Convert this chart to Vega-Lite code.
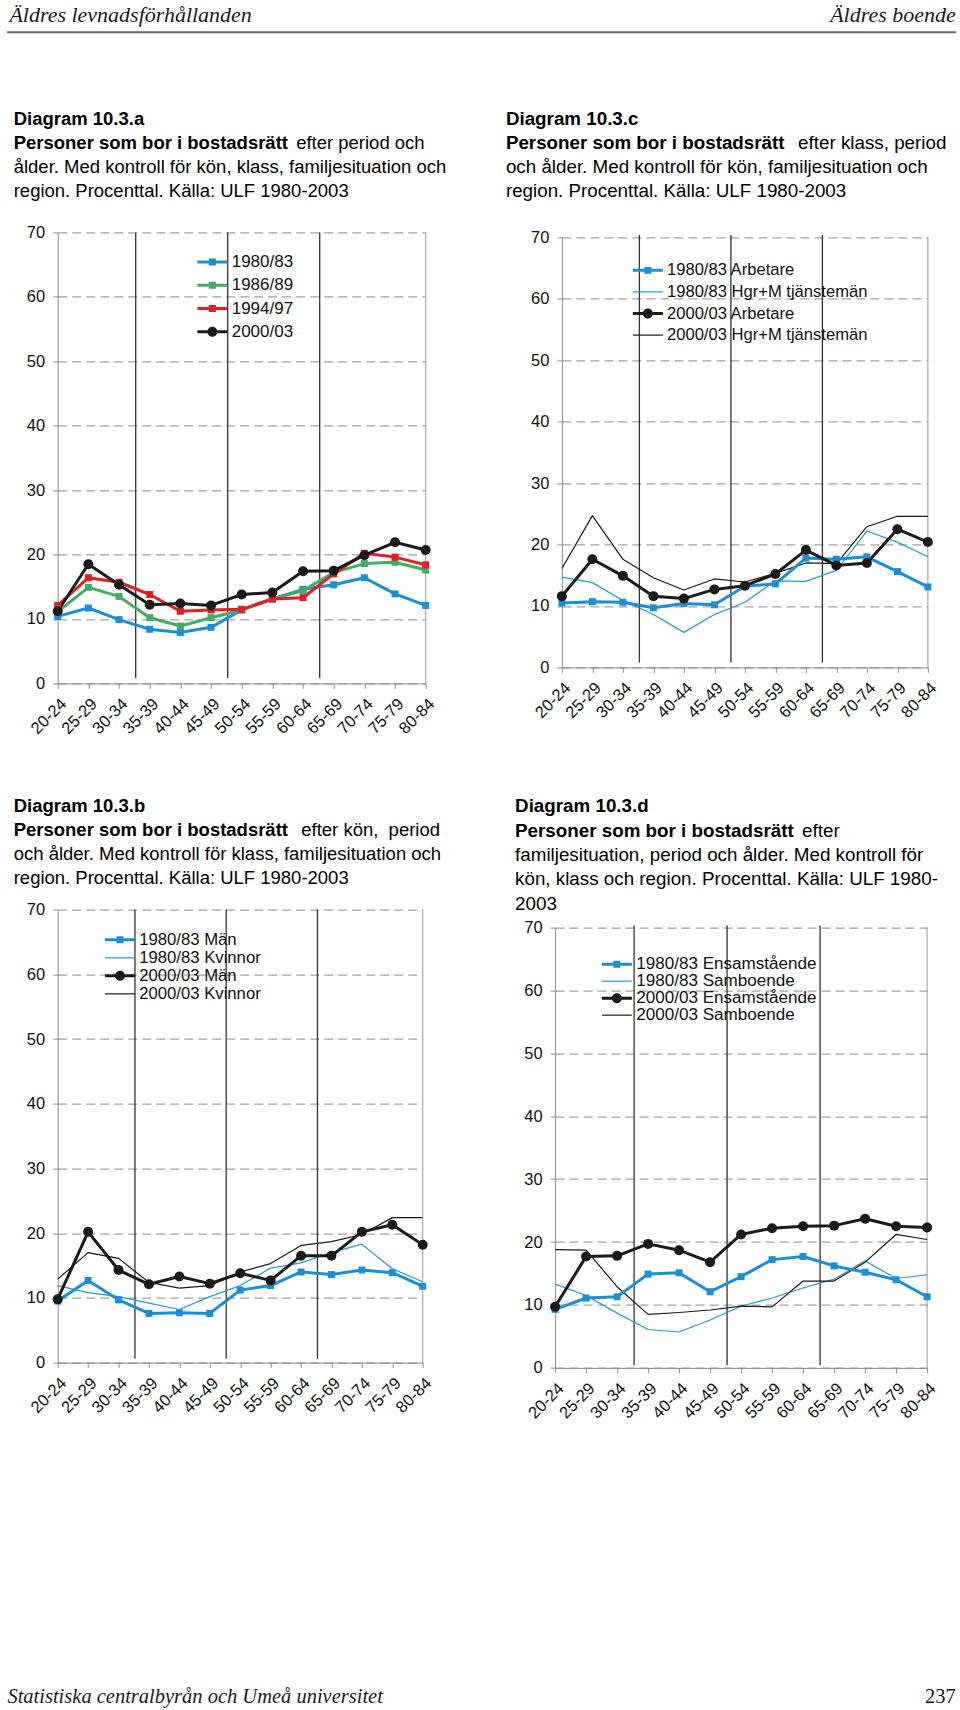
{
  "$schema": "https://vega.github.io/schema/vega-lite/v6.json",
  "padding": {"left": 6.7, "top": 3.8, "right": 0, "bottom": 0},
  "background": "white",
  "config": {
    "font": "Liberation Sans",
    "view": {"stroke": null},
    "axis": {"labelFont": "Liberation Sans", "labelFontSize": 16.5, "labelColor": "#111111", "domainColor": "#8c8c8c", "tickColor": "#8c8c8c", "tickSize": 5, "gridColor": "#8c8c8c", "gridDash": [9, 5], "gridWidth": 1, "labelOverlap": false},
    "axisX": {"labelAngle": -45, "labelAlign": "right", "labelBaseline": "top", "labelPadding": 7, "grid": false},
    "axisY": {"labelPadding": 8, "grid": true},
    "legend": {"labelFont": "Liberation Sans", "labelColor": "#111111", "symbolStrokeWidth": 0, "symbolSize": 100, "symbolOpacity": 1, "padding": 0, "symbolOffset": 0, "labelOffset": 10.8, "direction": "vertical", "orient": "none", "labelLimit": 500},
    "line": {"strokeJoin": "round"}
  },
  "resolve": {"scale": {"color": "independent", "shape": "independent"}, "legend": {"color": "independent", "shape": "independent"}},
  "datasets": {
    "a": [
      {"age":"20-24","series":"1980/83","value":10.4},{"age":"25-29","series":"1980/83","value":11.7},{"age":"30-34","series":"1980/83","value":9.9},{"age":"35-39","series":"1980/83","value":8.4},{"age":"40-44","series":"1980/83","value":7.9},{"age":"45-49","series":"1980/83","value":8.7},{"age":"50-54","series":"1980/83","value":11.4},{"age":"55-59","series":"1980/83","value":13.1},{"age":"60-64","series":"1980/83","value":14.6},{"age":"65-69","series":"1980/83","value":15.3},{"age":"70-74","series":"1980/83","value":16.4},{"age":"75-79","series":"1980/83","value":13.9},{"age":"80-84","series":"1980/83","value":12.1},
      {"age":"20-24","series":"1986/89","value":11.1},{"age":"25-29","series":"1986/89","value":14.9},{"age":"30-34","series":"1986/89","value":13.5},{"age":"35-39","series":"1986/89","value":10.2},{"age":"40-44","series":"1986/89","value":8.9},{"age":"45-49","series":"1986/89","value":10.2},{"age":"50-54","series":"1986/89","value":11.4},{"age":"55-59","series":"1986/89","value":13.1},{"age":"60-64","series":"1986/89","value":14.4},{"age":"65-69","series":"1986/89","value":17.2},{"age":"70-74","series":"1986/89","value":18.6},{"age":"75-79","series":"1986/89","value":18.8},{"age":"80-84","series":"1986/89","value":17.6},
      {"age":"20-24","series":"1994/97","value":12.1},{"age":"25-29","series":"1994/97","value":16.4},{"age":"30-34","series":"1994/97","value":15.7},{"age":"35-39","series":"1994/97","value":13.8},{"age":"40-44","series":"1994/97","value":11.2},{"age":"45-49","series":"1994/97","value":11.4},{"age":"50-54","series":"1994/97","value":11.5},{"age":"55-59","series":"1994/97","value":13.1},{"age":"60-64","series":"1994/97","value":13.3},{"age":"65-69","series":"1994/97","value":17.0},{"age":"70-74","series":"1994/97","value":20.2},{"age":"75-79","series":"1994/97","value":19.6},{"age":"80-84","series":"1994/97","value":18.4},
      {"age":"20-24","series":"2000/03","value":11.2},{"age":"25-29","series":"2000/03","value":18.5},{"age":"30-34","series":"2000/03","value":15.3},{"age":"35-39","series":"2000/03","value":12.2},{"age":"40-44","series":"2000/03","value":12.4},{"age":"45-49","series":"2000/03","value":12.1},{"age":"50-54","series":"2000/03","value":13.8},{"age":"55-59","series":"2000/03","value":14.1},{"age":"60-64","series":"2000/03","value":17.4},{"age":"65-69","series":"2000/03","value":17.5},{"age":"70-74","series":"2000/03","value":19.9},{"age":"75-79","series":"2000/03","value":21.9},{"age":"80-84","series":"2000/03","value":20.7}
    ],
    "c": [
      {"age":"20-24","series":"1980/83 Arbetare","value":10.5},{"age":"25-29","series":"1980/83 Arbetare","value":10.7},{"age":"30-34","series":"1980/83 Arbetare","value":10.6},{"age":"35-39","series":"1980/83 Arbetare","value":9.7},{"age":"40-44","series":"1980/83 Arbetare","value":10.4},{"age":"45-49","series":"1980/83 Arbetare","value":10.2},{"age":"50-54","series":"1980/83 Arbetare","value":13.2},{"age":"55-59","series":"1980/83 Arbetare","value":13.6},{"age":"60-64","series":"1980/83 Arbetare","value":17.8},{"age":"65-69","series":"1980/83 Arbetare","value":17.6},{"age":"70-74","series":"1980/83 Arbetare","value":18.0},{"age":"75-79","series":"1980/83 Arbetare","value":15.6},{"age":"80-84","series":"1980/83 Arbetare","value":13.1},
      {"age":"20-24","series":"1980/83 Hgr+M tjänstemän","value":14.7},{"age":"25-29","series":"1980/83 Hgr+M tjänstemän","value":13.8},{"age":"30-34","series":"1980/83 Hgr+M tjänstemän","value":10.9},{"age":"35-39","series":"1980/83 Hgr+M tjänstemän","value":8.6},{"age":"40-44","series":"1980/83 Hgr+M tjänstemän","value":5.7},{"age":"45-49","series":"1980/83 Hgr+M tjänstemän","value":8.6},{"age":"50-54","series":"1980/83 Hgr+M tjänstemän","value":10.6},{"age":"55-59","series":"1980/83 Hgr+M tjänstemän","value":14.1},{"age":"60-64","series":"1980/83 Hgr+M tjänstemän","value":14.0},{"age":"65-69","series":"1980/83 Hgr+M tjänstemän","value":15.8},{"age":"70-74","series":"1980/83 Hgr+M tjänstemän","value":22.2},{"age":"75-79","series":"1980/83 Hgr+M tjänstemän","value":20.4},{"age":"80-84","series":"1980/83 Hgr+M tjänstemän","value":18.0},
      {"age":"20-24","series":"2000/03 Arbetare","value":11.6},{"age":"25-29","series":"2000/03 Arbetare","value":17.6},{"age":"30-34","series":"2000/03 Arbetare","value":14.9},{"age":"35-39","series":"2000/03 Arbetare","value":11.6},{"age":"40-44","series":"2000/03 Arbetare","value":11.2},{"age":"45-49","series":"2000/03 Arbetare","value":12.7},{"age":"50-54","series":"2000/03 Arbetare","value":13.3},{"age":"55-59","series":"2000/03 Arbetare","value":15.2},{"age":"60-64","series":"2000/03 Arbetare","value":19.1},{"age":"65-69","series":"2000/03 Arbetare","value":16.6},{"age":"70-74","series":"2000/03 Arbetare","value":17.0},{"age":"75-79","series":"2000/03 Arbetare","value":22.5},{"age":"80-84","series":"2000/03 Arbetare","value":20.4},
      {"age":"20-24","series":"2000/03 Hgr+M tjänstemän","value":16.1},{"age":"25-29","series":"2000/03 Hgr+M tjänstemän","value":24.7},{"age":"30-34","series":"2000/03 Hgr+M tjänstemän","value":17.6},{"age":"35-39","series":"2000/03 Hgr+M tjänstemän","value":14.6},{"age":"40-44","series":"2000/03 Hgr+M tjänstemän","value":12.6},{"age":"45-49","series":"2000/03 Hgr+M tjänstemän","value":14.4},{"age":"50-54","series":"2000/03 Hgr+M tjänstemän","value":13.9},{"age":"55-59","series":"2000/03 Hgr+M tjänstemän","value":15.3},{"age":"60-64","series":"2000/03 Hgr+M tjänstemän","value":17.0},{"age":"65-69","series":"2000/03 Hgr+M tjänstemän","value":16.9},{"age":"70-74","series":"2000/03 Hgr+M tjänstemän","value":22.9},{"age":"75-79","series":"2000/03 Hgr+M tjänstemän","value":24.6},{"age":"80-84","series":"2000/03 Hgr+M tjänstemän","value":24.6}
    ],
    "b": [
      {"age":"20-24","series":"1980/83 Män","value":9.5},{"age":"25-29","series":"1980/83 Män","value":12.7},{"age":"30-34","series":"1980/83 Män","value":9.7},{"age":"35-39","series":"1980/83 Män","value":7.6},{"age":"40-44","series":"1980/83 Män","value":7.7},{"age":"45-49","series":"1980/83 Män","value":7.6},{"age":"50-54","series":"1980/83 Män","value":11.2},{"age":"55-59","series":"1980/83 Män","value":11.9},{"age":"60-64","series":"1980/83 Män","value":14.0},{"age":"65-69","series":"1980/83 Män","value":13.6},{"age":"70-74","series":"1980/83 Män","value":14.3},{"age":"75-79","series":"1980/83 Män","value":13.9},{"age":"80-84","series":"1980/83 Män","value":11.8},
      {"age":"20-24","series":"1980/83 Kvinnor","value":11.9},{"age":"25-29","series":"1980/83 Kvinnor","value":10.8},{"age":"30-34","series":"1980/83 Kvinnor","value":10.2},{"age":"35-39","series":"1980/83 Kvinnor","value":9.2},{"age":"40-44","series":"1980/83 Kvinnor","value":8.2},{"age":"45-49","series":"1980/83 Kvinnor","value":10.2},{"age":"50-54","series":"1980/83 Kvinnor","value":11.9},{"age":"55-59","series":"1980/83 Kvinnor","value":14.6},{"age":"60-64","series":"1980/83 Kvinnor","value":15.4},{"age":"65-69","series":"1980/83 Kvinnor","value":17.0},{"age":"70-74","series":"1980/83 Kvinnor","value":18.3},{"age":"75-79","series":"1980/83 Kvinnor","value":14.5},{"age":"80-84","series":"1980/83 Kvinnor","value":12.5},
      {"age":"20-24","series":"2000/03 Män","value":9.8},{"age":"25-29","series":"2000/03 Män","value":20.2},{"age":"30-34","series":"2000/03 Män","value":14.3},{"age":"35-39","series":"2000/03 Män","value":12.1},{"age":"40-44","series":"2000/03 Män","value":13.3},{"age":"45-49","series":"2000/03 Män","value":12.2},{"age":"50-54","series":"2000/03 Män","value":13.8},{"age":"55-59","series":"2000/03 Män","value":12.7},{"age":"60-64","series":"2000/03 Män","value":16.5},{"age":"65-69","series":"2000/03 Män","value":16.5},{"age":"70-74","series":"2000/03 Män","value":20.2},{"age":"75-79","series":"2000/03 Män","value":21.3},{"age":"80-84","series":"2000/03 Män","value":18.2},
      {"age":"20-24","series":"2000/03 Kvinnor","value":12.9},{"age":"25-29","series":"2000/03 Kvinnor","value":17.0},{"age":"30-34","series":"2000/03 Kvinnor","value":16.1},{"age":"35-39","series":"2000/03 Kvinnor","value":12.4},{"age":"40-44","series":"2000/03 Kvinnor","value":11.5},{"age":"45-49","series":"2000/03 Kvinnor","value":11.9},{"age":"50-54","series":"2000/03 Kvinnor","value":14.0},{"age":"55-59","series":"2000/03 Kvinnor","value":15.3},{"age":"60-64","series":"2000/03 Kvinnor","value":18.1},{"age":"65-69","series":"2000/03 Kvinnor","value":18.7},{"age":"70-74","series":"2000/03 Kvinnor","value":19.8},{"age":"75-79","series":"2000/03 Kvinnor","value":22.4},{"age":"80-84","series":"2000/03 Kvinnor","value":22.4}
    ],
    "d": [
      {"age":"20-24","series":"1980/83 Ensamstående","value":9.3},{"age":"25-29","series":"1980/83 Ensamstående","value":11.1},{"age":"30-34","series":"1980/83 Ensamstående","value":11.3},{"age":"35-39","series":"1980/83 Ensamstående","value":14.9},{"age":"40-44","series":"1980/83 Ensamstående","value":15.1},{"age":"45-49","series":"1980/83 Ensamstående","value":12.1},{"age":"50-54","series":"1980/83 Ensamstående","value":14.5},{"age":"55-59","series":"1980/83 Ensamstående","value":17.2},{"age":"60-64","series":"1980/83 Ensamstående","value":17.7},{"age":"65-69","series":"1980/83 Ensamstående","value":16.2},{"age":"70-74","series":"1980/83 Ensamstående","value":15.2},{"age":"75-79","series":"1980/83 Ensamstående","value":14.0},{"age":"80-84","series":"1980/83 Ensamstående","value":11.3},
      {"age":"20-24","series":"1980/83 Samboende","value":13.3},{"age":"25-29","series":"1980/83 Samboende","value":11.5},{"age":"30-34","series":"1980/83 Samboende","value":8.7},{"age":"35-39","series":"1980/83 Samboende","value":6.1},{"age":"40-44","series":"1980/83 Samboende","value":5.7},{"age":"45-49","series":"1980/83 Samboende","value":7.6},{"age":"50-54","series":"1980/83 Samboende","value":9.8},{"age":"55-59","series":"1980/83 Samboende","value":11.1},{"age":"60-64","series":"1980/83 Samboende","value":12.7},{"age":"65-69","series":"1980/83 Samboende","value":14.1},{"age":"70-74","series":"1980/83 Samboende","value":17.0},{"age":"75-79","series":"1980/83 Samboende","value":14.2},{"age":"80-84","series":"1980/83 Samboende","value":14.8},
      {"age":"20-24","series":"2000/03 Ensamstående","value":9.7},{"age":"25-29","series":"2000/03 Ensamstående","value":17.7},{"age":"30-34","series":"2000/03 Ensamstående","value":17.8},{"age":"35-39","series":"2000/03 Ensamstående","value":19.7},{"age":"40-44","series":"2000/03 Ensamstående","value":18.7},{"age":"45-49","series":"2000/03 Ensamstående","value":16.8},{"age":"50-54","series":"2000/03 Ensamstående","value":21.2},{"age":"55-59","series":"2000/03 Ensamstående","value":22.2},{"age":"60-64","series":"2000/03 Ensamstående","value":22.5},{"age":"65-69","series":"2000/03 Ensamstående","value":22.6},{"age":"70-74","series":"2000/03 Ensamstående","value":23.7},{"age":"75-79","series":"2000/03 Ensamstående","value":22.5},{"age":"80-84","series":"2000/03 Ensamstående","value":22.3},
      {"age":"20-24","series":"2000/03 Samboende","value":18.8},{"age":"25-29","series":"2000/03 Samboende","value":18.7},{"age":"30-34","series":"2000/03 Samboende","value":12.9},{"age":"35-39","series":"2000/03 Samboende","value":8.5},{"age":"40-44","series":"2000/03 Samboende","value":8.8},{"age":"45-49","series":"2000/03 Samboende","value":9.2},{"age":"50-54","series":"2000/03 Samboende","value":9.8},{"age":"55-59","series":"2000/03 Samboende","value":9.7},{"age":"60-64","series":"2000/03 Samboende","value":13.8},{"age":"65-69","series":"2000/03 Samboende","value":13.8},{"age":"70-74","series":"2000/03 Samboende","value":16.8},{"age":"75-79","series":"2000/03 Samboende","value":21.2},{"age":"80-84","series":"2000/03 Samboende","value":20.4}
    ]
  },
  "spacing": 77.6,
  "vconcat": [
    {
      "width": 898,
      "height": 1,
      "layer": [
        {
          "data": {"values": [{"label": "Äldres levnadsförhållanden"}]},
          "mark": {"type": "text", "align": "left", "baseline": "alphabetic", "dx": 3, "dy": -9, "font": "Liberation Serif", "fontStyle": "italic", "fontSize": 22, "color": "#1a1a1a"},
          "encoding": {
            "text": {"field": "label"},
            "x": {"datum": 0, "type": "quantitative", "scale": {"domain": [0, 1], "range": [-51.3, 898], "nice": false, "zero": false}, "axis": {"orient": "bottom", "domain": true, "domainColor": "#6b6b6b", "domainWidth": 2, "ticks": false, "labels": false, "grid": false, "title": null}}
          }
        },
        {
          "data": {"values": [{"label": "Äldres boende"}]},
          "mark": {"type": "text", "align": "right", "baseline": "alphabetic", "dy": -9, "font": "Liberation Serif", "fontStyle": "italic", "fontSize": 22, "color": "#1a1a1a"},
          "encoding": {
            "text": {"field": "label"},
            "x": {"datum": 1, "type": "quantitative"}
          }
        }
      ]
    },
    {
      "spacing": 59.2,
      "resolve": {"scale": {"color": "independent", "shape": "independent"}, "legend": {"color": "independent", "shape": "independent"}},
      "vconcat": [
        {
          "columns": 2,
          "align": "none",
          "spacing": 59.2,
          "resolve": {"scale": {"color": "independent", "shape": "independent"}, "legend": {"color": "independent", "shape": "independent"}},
          "concat": [
            {
              "width": 368,
              "height": 451,
              "title": {
                "text": ["Diagram 10.3.a", "Personer som bor i bostadsrätt"],
                "subtitle": ["\u200b\u00a0\u00a0\u00a0\u00a0\u00a0\u00a0\u00a0\u00a0\u00a0\u00a0\u00a0\u00a0\u00a0\u00a0\u00a0\u00a0\u00a0\u00a0\u00a0\u00a0\u00a0\u00a0\u00a0\u00a0\u00a0\u00a0\u00a0\u00a0\u00a0\u00a0\u00a0\u00a0\u00a0\u00a0\u00a0\u00a0\u00a0\u00a0\u00a0\u00a0\u00a0\u00a0\u00a0\u00a0\u00a0\u00a0\u00a0\u00a0\u00a0\u00a0\u00a0\u00a0\u00a0\u00a0\u00a0efter period och", "ålder. Med kontroll för kön, klass, familjesituation och", "region. Procenttal. Källa: ULF 1980-2003"],
                "anchor": "start", "frame": "group", "dx": -44, "offset": 24.2,
                "font": "Liberation Sans", "fontSize": 18.5, "fontWeight": "bold", "lineHeight": 24, "color": "#000000",
                "subtitleFont": "Liberation Sans", "subtitleFontSize": 18.5, "subtitleFontWeight": "normal", "subtitleLineHeight": 24, "subtitleColor": "#000000", "subtitlePadding": -18.5
              },
              "layer": [
                {"data": {"values": [{"age": "35-39"}, {"age": "50-54"}, {"age": "65-69"}]}, "mark": {"type": "rule", "color": "#333333", "strokeWidth": 1.3, "xOffset": -14}, "encoding": {"x": {"field": "age", "type": "ordinal", "scale": {"type": "point", "padding": 0, "domain": ["20-24","25-29","30-34","35-39","40-44","45-49","50-54","55-59","60-64","65-69","70-74","75-79","80-84"]}, "axis": {"title": null}}, "y": {"datum": 70, "type": "quantitative"}, "y2": {"datum": 0.8}}},
                {"data": {"values": [{"age": "80-84"}]}, "mark": {"type": "rule", "color": "#999999", "strokeWidth": 1}, "encoding": {"x": {"field": "age", "type": "ordinal"}, "y": {"datum": 70, "type": "quantitative"}, "y2": {"datum": 0}}},
                {"data": {"name": "a"}, "mark": {"type": "line", "strokeWidth": 3},
                 "encoding": {
                   "x": {"field": "age", "type": "ordinal"},
                   "y": {"field": "value", "type": "quantitative", "scale": {"domain": [0, 70], "nice": false}, "axis": {"title": null, "values": [0,10,20,30,40,50,60,70]}},
                   "color": {"field": "series", "type": "nominal", "scale": {"domain": ["1980/83","1986/89","1994/97","2000/03"], "range": ["#1c8fd3","#45ac68","#e31e26","#1a1a1a"]}}
                 }},
                {"data": {"name": "a"}, "transform": [{"filter": {"field": "series", "oneOf": ["1980/83","1986/89","1994/97"]}}], "mark": {"type": "point", "shape": "square", "filled": true, "size": 49, "opacity": 1},
                 "encoding": {"x": {"field": "age", "type": "ordinal"}, "y": {"field": "value", "type": "quantitative"}, "color": {"field": "series", "type": "nominal"}}},
                {"data": {"name": "a"}, "transform": [{"filter": {"field": "series", "equal": "2000/03"}}], "mark": {"type": "point", "shape": "circle", "filled": true, "size": 100, "opacity": 1},
                 "encoding": {"x": {"field": "age", "type": "ordinal"}, "y": {"field": "value", "type": "quantitative"}, "color": {"field": "series", "type": "nominal"}}},
                {"data": {"name": "a"}, "mark": {"type": "point", "filled": true, "size": 100, "opacity": 0},
                 "encoding": {"x": {"field": "age", "type": "ordinal"}, "y": {"field": "value", "type": "quantitative"},
                   "color": {"field": "series", "type": "nominal", "legend": {"title": null, "legendX": 146.2, "legendY": 21, "labelFontSize": 17, "rowPadding": 5.3}},
                   "shape": {"field": "series", "type": "nominal", "scale": {"domain": ["1980/83","1986/89","1994/97","2000/03"], "range": ["M-3,-0.3H3V0.3H-3ZM-0.7,-0.7H0.7V0.7H-0.7Z","M-3,-0.3H3V0.3H-3ZM-0.7,-0.7H0.7V0.7H-0.7Z","M-3,-0.3H3V0.3H-3ZM-0.7,-0.7H0.7V0.7H-0.7Z","M-3,-0.3H3V0.3H-3ZM1,0A1,1,0,1,1,-1,0A1,1,0,1,1,1,0Z"]}, "legend": {"title": null, "legendX": 146.2, "legendY": 21, "labelFontSize": 17, "rowPadding": 5.3}}
                 }}
              ]
            },
            {
              "width": 366,
              "height": 435,
              "title": {
                "text": ["Diagram 10.3.c", "Personer som bor i bostadsrätt"],
                "subtitle": ["\u200b\u00a0\u00a0\u00a0\u00a0\u00a0\u00a0\u00a0\u00a0\u00a0\u00a0\u00a0\u00a0\u00a0\u00a0\u00a0\u00a0\u00a0\u00a0\u00a0\u00a0\u00a0\u00a0\u00a0\u00a0\u00a0\u00a0\u00a0\u00a0\u00a0\u00a0\u00a0\u00a0\u00a0\u00a0\u00a0\u00a0\u00a0\u00a0\u00a0\u00a0\u00a0\u00a0\u00a0\u00a0\u00a0\u00a0\u00a0\u00a0\u00a0\u00a0\u00a0\u00a0\u00a0\u00a0\u00a0\u00a0efter klass, period", "och ålder. Med kontroll för kön, familjesituation och", "region. Procenttal. Källa: ULF 1980-2003"],
                "anchor": "start", "frame": "group", "dx": -56, "offset": 28.9,
                "font": "Liberation Sans", "fontSize": 18.8, "fontWeight": "bold", "lineHeight": 24, "color": "#000000",
                "subtitleFont": "Liberation Sans", "subtitleFontSize": 18.8, "subtitleFontWeight": "normal", "subtitleLineHeight": 24, "subtitleColor": "#000000", "subtitlePadding": -18.8
              },
              "layer": [
                {"data": {"values": [{"age": "35-39"}, {"age": "50-54"}, {"age": "65-69"}]}, "mark": {"type": "rule", "color": "#333333", "strokeWidth": 1.3, "xOffset": -14}, "encoding": {"x": {"field": "age", "type": "ordinal", "scale": {"type": "point", "padding": 0, "domain": ["20-24","25-29","30-34","35-39","40-44","45-49","50-54","55-59","60-64","65-69","70-74","75-79","80-84"]}, "axis": {"title": null}}, "y": {"datum": 70.4, "type": "quantitative"}, "y2": {"datum": 0.8}}},
                {"data": {"values": [{"age": "80-84"}]}, "mark": {"type": "rule", "color": "#999999", "strokeWidth": 1}, "encoding": {"x": {"field": "age", "type": "ordinal"}, "y": {"datum": 70, "type": "quantitative"}, "y2": {"datum": 0}}},
                {"data": {"name": "c"}, "transform": [{"filter": {"field": "series", "oneOf": ["1980/83 Hgr+M tjänstemän","2000/03 Hgr+M tjänstemän"]}}], "mark": {"type": "line", "strokeWidth": 1.2},
                 "encoding": {
                   "x": {"field": "age", "type": "ordinal"},
                   "y": {"field": "value", "type": "quantitative", "scale": {"domain": [0, 70], "nice": false, "range": [435, 5]}, "axis": {"title": null, "values": [0,10,20,30,40,50,60,70]}},
                   "color": {"field": "series", "type": "nominal", "scale": {"domain": ["1980/83 Arbetare","1980/83 Hgr+M tjänstemän","2000/03 Arbetare","2000/03 Hgr+M tjänstemän"], "range": ["#1c8fd3","#2a9bc2","#1a1a1a","#1a1a1a"]}}
                 }},
                {"data": {"name": "c"}, "transform": [{"filter": {"field": "series", "oneOf": ["1980/83 Arbetare","2000/03 Arbetare"]}}], "mark": {"type": "line", "strokeWidth": 3},
                 "encoding": {"x": {"field": "age", "type": "ordinal"}, "y": {"field": "value", "type": "quantitative"}, "color": {"field": "series", "type": "nominal"}}},
                {"data": {"name": "c"}, "transform": [{"filter": {"field": "series", "equal": "1980/83 Arbetare"}}], "mark": {"type": "point", "shape": "square", "filled": true, "size": 49, "opacity": 1},
                 "encoding": {"x": {"field": "age", "type": "ordinal"}, "y": {"field": "value", "type": "quantitative"}, "color": {"field": "series", "type": "nominal"}}},
                {"data": {"name": "c"}, "transform": [{"filter": {"field": "series", "equal": "2000/03 Arbetare"}}], "mark": {"type": "point", "shape": "circle", "filled": true, "size": 100, "opacity": 1},
                 "encoding": {"x": {"field": "age", "type": "ordinal"}, "y": {"field": "value", "type": "quantitative"}, "color": {"field": "series", "type": "nominal"}}},
                {"data": {"name": "c"}, "mark": {"type": "point", "filled": true, "size": 100, "opacity": 0},
                 "encoding": {"x": {"field": "age", "type": "ordinal"}, "y": {"field": "value", "type": "quantitative"},
                   "color": {"field": "series", "type": "nominal", "legend": {"title": null, "legendX": 77.7, "legendY": 29.6, "labelFontSize": 16.6, "rowPadding": 4.6}},
                   "shape": {"field": "series", "type": "nominal", "scale": {"domain": ["1980/83 Arbetare","1980/83 Hgr+M tjänstemän","2000/03 Arbetare","2000/03 Hgr+M tjänstemän"], "range": ["M-3,-0.3H3V0.3H-3ZM-0.7,-0.7H0.7V0.7H-0.7Z","M-3,-0.12H3V0.12H-3Z","M-3,-0.3H3V0.3H-3ZM1,0A1,1,0,1,1,-1,0A1,1,0,1,1,1,0Z","M-3,-0.12H3V0.12H-3Z"]}, "legend": {"title": null, "legendX": 77.7, "legendY": 29.6, "labelFontSize": 16.6, "rowPadding": 4.6}}
                 }}
              ]
            }
          ]
        },
        {
          "columns": 2,
          "align": "none",
          "spacing": 73.4,
          "resolve": {"scale": {"color": "independent", "shape": "independent"}, "legend": {"color": "independent", "shape": "independent"}},
          "concat": [
            {
              "width": 365,
              "height": 453,
              "title": {
                "text": ["Diagram 10.3.b", "Personer som bor i bostadsrätt"],
                "subtitle": ["\u200b\u00a0\u00a0\u00a0\u00a0\u00a0\u00a0\u00a0\u00a0\u00a0\u00a0\u00a0\u00a0\u00a0\u00a0\u00a0\u00a0\u00a0\u00a0\u00a0\u00a0\u00a0\u00a0\u00a0\u00a0\u00a0\u00a0\u00a0\u00a0\u00a0\u00a0\u00a0\u00a0\u00a0\u00a0\u00a0\u00a0\u00a0\u00a0\u00a0\u00a0\u00a0\u00a0\u00a0\u00a0\u00a0\u00a0\u00a0\u00a0\u00a0\u00a0\u00a0\u00a0\u00a0\u00a0\u00a0\u00a0efter kön,\u00a0 period", "och ålder. Med kontroll för klass, familjesituation och", "region. Procenttal. Källa: ULF 1980-2003"],
                "anchor": "start", "frame": "group", "dx": -44, "offset": 13.9,
                "font": "Liberation Sans", "fontSize": 18.5, "fontWeight": "bold", "lineHeight": 24, "color": "#000000",
                "subtitleFont": "Liberation Sans", "subtitleFontSize": 18.5, "subtitleFontWeight": "normal", "subtitleLineHeight": 24, "subtitleColor": "#000000", "subtitlePadding": -18.5
              },
              "layer": [
                {"data": {"values": [{"age": "35-39"}, {"age": "50-54"}, {"age": "65-69"}]}, "mark": {"type": "rule", "color": "#333333", "strokeWidth": 1.3, "xOffset": -14}, "encoding": {"x": {"field": "age", "type": "ordinal", "scale": {"type": "point", "padding": 0, "domain": ["20-24","25-29","30-34","35-39","40-44","45-49","50-54","55-59","60-64","65-69","70-74","75-79","80-84"]}, "axis": {"title": null}}, "y": {"datum": 70, "type": "quantitative"}, "y2": {"datum": 0.6}}},
                {"data": {"values": [{"age": "80-84"}]}, "mark": {"type": "rule", "color": "#999999", "strokeWidth": 1}, "encoding": {"x": {"field": "age", "type": "ordinal"}, "y": {"datum": 70, "type": "quantitative"}, "y2": {"datum": 0}}},
                {"data": {"name": "b"}, "transform": [{"filter": {"field": "series", "oneOf": ["1980/83 Kvinnor","2000/03 Kvinnor"]}}], "mark": {"type": "line", "strokeWidth": 1.2},
                 "encoding": {
                   "x": {"field": "age", "type": "ordinal"},
                   "y": {"field": "value", "type": "quantitative", "scale": {"domain": [0, 70], "nice": false}, "axis": {"title": null, "values": [0,10,20,30,40,50,60,70]}},
                   "color": {"field": "series", "type": "nominal", "scale": {"domain": ["1980/83 Män","1980/83 Kvinnor","2000/03 Män","2000/03 Kvinnor"], "range": ["#1c8fd3","#2a9bc2","#1a1a1a","#1a1a1a"]}}
                 }},
                {"data": {"name": "b"}, "transform": [{"filter": {"field": "series", "oneOf": ["1980/83 Män","2000/03 Män"]}}], "mark": {"type": "line", "strokeWidth": 3},
                 "encoding": {"x": {"field": "age", "type": "ordinal"}, "y": {"field": "value", "type": "quantitative"}, "color": {"field": "series", "type": "nominal"}}},
                {"data": {"name": "b"}, "transform": [{"filter": {"field": "series", "equal": "1980/83 Män"}}], "mark": {"type": "point", "shape": "square", "filled": true, "size": 49, "opacity": 1},
                 "encoding": {"x": {"field": "age", "type": "ordinal"}, "y": {"field": "value", "type": "quantitative"}, "color": {"field": "series", "type": "nominal"}}},
                {"data": {"name": "b"}, "transform": [{"filter": {"field": "series", "equal": "2000/03 Män"}}], "mark": {"type": "point", "shape": "circle", "filled": true, "size": 100, "opacity": 1},
                 "encoding": {"x": {"field": "age", "type": "ordinal"}, "y": {"field": "value", "type": "quantitative"}, "color": {"field": "series", "type": "nominal"}}},
                {"data": {"name": "b"}, "mark": {"type": "point", "filled": true, "size": 100, "opacity": 0},
                 "encoding": {"x": {"field": "age", "type": "ordinal"}, "y": {"field": "value", "type": "quantitative"},
                   "color": {"field": "series", "type": "nominal", "legend": {"title": null, "legendX": 54, "legendY": 21.9, "labelFontSize": 16.7, "rowPadding": -2.5}},
                   "shape": {"field": "series", "type": "nominal", "scale": {"domain": ["1980/83 Män","1980/83 Kvinnor","2000/03 Män","2000/03 Kvinnor"], "range": ["M-3,-0.3H3V0.3H-3ZM-0.7,-0.7H0.7V0.7H-0.7Z","M-3,-0.12H3V0.12H-3Z","M-3,-0.3H3V0.3H-3ZM1,0A1,1,0,1,1,-1,0A1,1,0,1,1,1,0Z","M-3,-0.12H3V0.12H-3Z"]}, "legend": {"title": null, "legendX": 54, "legendY": 21.9, "labelFontSize": 16.7, "rowPadding": -2.5}}
                 }}
              ]
            },
            {
              "width": 372,
              "height": 458.3,
              "title": {
                "text": ["Diagram 10.3.d", "Personer som bor i bostadsrätt"],
                "subtitle": ["\u200b\u00a0\u00a0\u00a0\u00a0\u00a0\u00a0\u00a0\u00a0\u00a0\u00a0\u00a0\u00a0\u00a0\u00a0\u00a0\u00a0\u00a0\u00a0\u00a0\u00a0\u00a0\u00a0\u00a0\u00a0\u00a0\u00a0\u00a0\u00a0\u00a0\u00a0\u00a0\u00a0\u00a0\u00a0\u00a0\u00a0\u00a0\u00a0\u00a0\u00a0\u00a0\u00a0\u00a0\u00a0\u00a0\u00a0\u00a0\u00a0\u00a0\u00a0\u00a0\u00a0\u00a0\u00a0\u00a0efter", "familjesituation, period och ålder. Med kontroll för", "kön, klass och region. Procenttal. Källa: ULF 1980-", "2003"],
                "anchor": "start", "frame": "group", "dx": -40, "offset": -4,
                "font": "Liberation Sans", "fontSize": 18.8, "fontWeight": "bold", "lineHeight": 24.4, "color": "#000000",
                "subtitleFont": "Liberation Sans", "subtitleFontSize": 18.8, "subtitleFontWeight": "normal", "subtitleLineHeight": 24.4, "subtitleColor": "#000000", "subtitlePadding": -18.8
              },
              "layer": [
                {"data": {"values": [{"age": "35-39"}, {"age": "50-54"}, {"age": "65-69"}]}, "mark": {"type": "rule", "color": "#333333", "strokeWidth": 1.3, "xOffset": -14}, "encoding": {"x": {"field": "age", "type": "ordinal", "scale": {"type": "point", "padding": 0, "domain": ["20-24","25-29","30-34","35-39","40-44","45-49","50-54","55-59","60-64","65-69","70-74","75-79","80-84"]}, "axis": {"title": null}}, "y": {"datum": 70.3, "type": "quantitative"}, "y2": {"datum": 0.4}}},
                {"data": {"values": [{"age": "80-84"}]}, "mark": {"type": "rule", "color": "#999999", "strokeWidth": 1}, "encoding": {"x": {"field": "age", "type": "ordinal"}, "y": {"datum": 70, "type": "quantitative"}, "y2": {"datum": 0}}},
                {"data": {"name": "d"}, "transform": [{"filter": {"field": "series", "oneOf": ["1980/83 Samboende","2000/03 Samboende"]}}], "mark": {"type": "line", "strokeWidth": 1.2},
                 "encoding": {
                   "x": {"field": "age", "type": "ordinal"},
                   "y": {"field": "value", "type": "quantitative", "scale": {"domain": [0, 70], "nice": false, "range": [458.3, 17.7]}, "axis": {"title": null, "values": [0,10,20,30,40,50,60,70]}},
                   "color": {"field": "series", "type": "nominal", "scale": {"domain": ["1980/83 Ensamstående","1980/83 Samboende","2000/03 Ensamstående","2000/03 Samboende"], "range": ["#1c8fd3","#2a9bc2","#1a1a1a","#1a1a1a"]}}
                 }},
                {"data": {"name": "d"}, "transform": [{"filter": {"field": "series", "oneOf": ["1980/83 Ensamstående","2000/03 Ensamstående"]}}], "mark": {"type": "line", "strokeWidth": 3},
                 "encoding": {"x": {"field": "age", "type": "ordinal"}, "y": {"field": "value", "type": "quantitative"}, "color": {"field": "series", "type": "nominal"}}},
                {"data": {"name": "d"}, "transform": [{"filter": {"field": "series", "equal": "1980/83 Ensamstående"}}], "mark": {"type": "point", "shape": "square", "filled": true, "size": 49, "opacity": 1},
                 "encoding": {"x": {"field": "age", "type": "ordinal"}, "y": {"field": "value", "type": "quantitative"}, "color": {"field": "series", "type": "nominal"}}},
                {"data": {"name": "d"}, "transform": [{"filter": {"field": "series", "equal": "2000/03 Ensamstående"}}], "mark": {"type": "point", "shape": "circle", "filled": true, "size": 100, "opacity": 1},
                 "encoding": {"x": {"field": "age", "type": "ordinal"}, "y": {"field": "value", "type": "quantitative"}, "color": {"field": "series", "type": "nominal"}}},
                {"data": {"name": "d"}, "mark": {"type": "point", "filled": true, "size": 100, "opacity": 0},
                 "encoding": {"x": {"field": "age", "type": "ordinal"}, "y": {"field": "value", "type": "quantitative"},
                   "color": {"field": "series", "type": "nominal", "legend": {"title": null, "legendX": 53.2, "legendY": 46, "labelFontSize": 17.1, "rowPadding": -1}},
                   "shape": {"field": "series", "type": "nominal", "scale": {"domain": ["1980/83 Ensamstående","1980/83 Samboende","2000/03 Ensamstående","2000/03 Samboende"], "range": ["M-3,-0.3H3V0.3H-3ZM-0.7,-0.7H0.7V0.7H-0.7Z","M-3,-0.12H3V0.12H-3Z","M-3,-0.3H3V0.3H-3ZM1,0A1,1,0,1,1,-1,0A1,1,0,1,1,1,0Z","M-3,-0.12H3V0.12H-3Z"]}, "legend": {"title": null, "legendX": 53.2, "legendY": 46, "labelFontSize": 17.1, "rowPadding": -1}}
                 }}
              ]
            }
          ]
        }
      ]
    },
    {
      "width": 898,
      "height": 197,
      "layer": [
        {
          "data": {"values": [{"label": "Statistiska centralbyrån och Umeå universitet"}]},
          "mark": {"type": "text", "align": "left", "baseline": "middle", "dx": 1, "font": "Liberation Serif", "fontStyle": "italic", "fontSize": 20.5, "color": "#1a1a1a"},
          "encoding": {
            "text": {"field": "label"},
            "x": {"datum": 0, "type": "quantitative", "scale": {"domain": [0, 1], "range": [-51.3, 898], "nice": false, "zero": false}, "axis": null},
            "y": {"value": "height"}
          }
        },
        {
          "data": {"values": [{"label": "237"}]},
          "mark": {"type": "text", "align": "right", "baseline": "middle", "font": "Liberation Serif", "fontSize": 20.5, "color": "#1a1a1a"},
          "encoding": {
            "text": {"field": "label"},
            "x": {"datum": 1, "type": "quantitative"},
            "y": {"value": "height"}
          }
        }
      ]
    }
  ]
}
